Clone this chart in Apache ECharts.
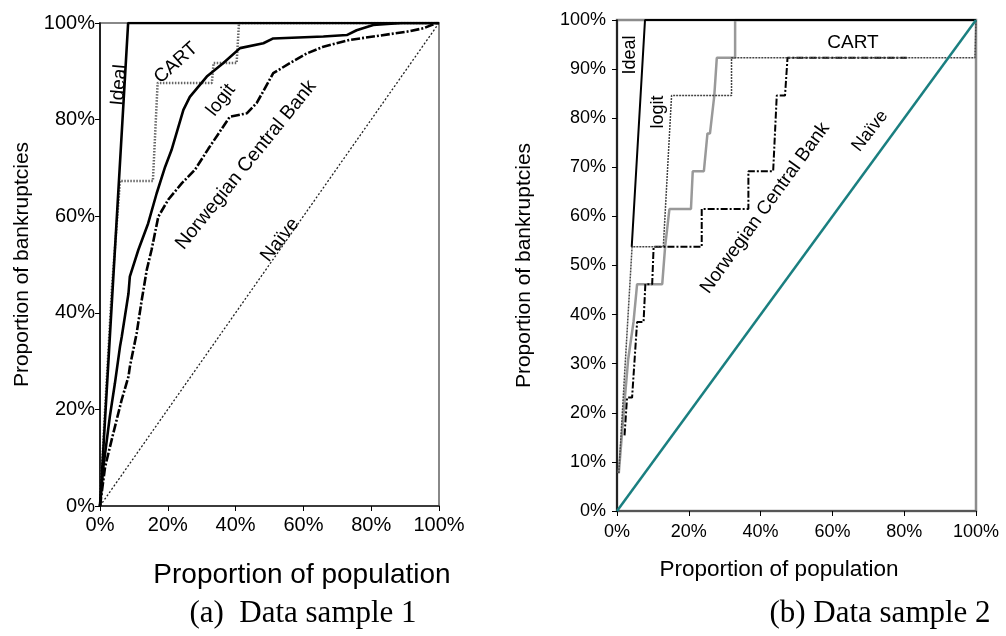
<!DOCTYPE html>
<html>
<head>
<meta charset="utf-8">
<script src="https://cdn.jsdelivr.net/npm/echarts@6/dist/echarts.min.js"></script>
<style>html,body{margin:0;padding:0;background:#fff}#c{width:1006px;height:636px}</style>
</head>
<body>
<div id="c"></div>
<script>
// ---- Panel (a): Data sample 1 ----  [proportion of population %, proportion of bankruptcies %]
const A_ideal = [[0,0],[8.3,100],[100,100]];
const A_cart = [[0,0],[1.5,20],[3.5,45],[5.9,67.3],[15.6,67.3],[17,87.6],[33,87.6],[33.5,91.7],[40.3,91.7],[41,100],[100,100]];
const A_logit = [[0,0],[1,8.1],[2.9,18.5],[4.4,25.4],[5.9,33],[6.4,35],[8.4,44],[8.8,47.5],[11.3,53],[14.2,58.5],[16.7,64.7],[19.2,70.2],[21.1,73.7],[24.6,82],[26.5,84.7],[31.5,88.9],[36.4,91.7],[41.3,94.8],[48.2,95.8],[51.1,96.8],[65.9,97.2],[72.8,97.5],[75.7,98.5],[80.6,99.6],[89,100],[100,100]];
const A_ncb = [[0,0],[1.5,8.1],[3.9,15],[6.4,22],[8.4,26.8],[8.8,28.8],[10.8,35.7],[12.3,42.6],[13.8,48.9],[15.2,53],[17.2,59.9],[20.1,63.4],[24.1,66.8],[28,69.6],[32,74],[38.3,80.6],[43.3,81.3],[46.2,83.4],[51.1,89.6],[56,91.7],[61,93.7],[65.9,95.1],[73.7,96.5],[80.6,97.2],[90.5,98.2],[95.4,98.9],[99.3,100],[100,100]];
const A_naive = [[0,0],[100,100]];

// ---- Panel (b): Data sample 2 ----
const B_ideal = [[4.1,53.8],[7.8,100],[100,100]];
const B_cart = [[0.5,7.7],[4.2,53.8],[12.9,53.8],[15.2,84.6],[31.9,84.6],[31.9,92.3],[99.7,92.3],[100,100]];
const B_logit = [[0.5,7.7],[2.2,23.1],[3.1,30.8],[3.6,30.8],[4.6,38.5],[5.6,46.2],[12.6,46.2],[13.4,53.8],[14.6,61.5],[20.6,61.5],[21.1,69.2],[24.2,69.2],[25.2,76.9],[25.9,76.9],[27.1,84.6],[27.8,92.3],[32.9,92.3],[32.9,100],[100,100]];
const B_ncb = [[2.1,15.4],[2.8,23.1],[4.2,23.1],[5.6,38.5],[7.4,38.5],[7.9,46.2],[9.8,46.2],[10.2,53.8],[23.6,53.8],[23.6,61.5],[36.6,61.5],[36.6,69.2],[43.5,69.2],[44.5,84.6],[46.8,84.6],[47.5,92.3],[80.7,92.3]];
const B_naive = [[0,0],[100,100]];

const xTicksA = 20, yTicksA = 20, xTicksB = 20, yTicksB = 10;
const xNameA = 'Proportion of population', yNameA = 'Proportion of bankruptcies';
const xNameB = 'Proportion of population', yNameB = 'Proportion of bankruptcies';
const captionA = '(a)  Data sample 1', captionB = '(b) Data sample 2';

const SANS = '"Liberation Sans", Arial, sans-serif';
const SERIF = '"Liberation Serif", "Times New Roman", serif';
const chart = echarts.init(document.getElementById('c'), null, {renderer:'canvas'});

function ax(opts){
  return Object.assign({
    type:'value', min:0, max:100,
    splitLine:{show:false},
    axisLine:{show:true, lineStyle:{color:'#000', width:1.5}},
    axisTick:{show:true, inside:false, length:5, lineStyle:{color:'#000', width:1}},
    axisLabel:{formatter:'{value}%', color:'#000', fontFamily:SANS},
    nameLocation:'middle',
    nameTextStyle:{color:'#000', fontFamily:SANS}
  }, opts);
}
function ln(name, data, gi, style, z){
  return {type:'line', name, data, xAxisIndex:gi, yAxisIndex:gi, showSymbol:false, symbol:'none',
    lineStyle:style, z:z||2, silent:true, animation:false};
}
function txt(text, x, y, rotDeg, size, family){
  return {type:'text', x, y, rotation: rotDeg*Math.PI/180, z:100,
    style:{text, fill:'#000', font: size+'px '+(family||SANS), align:'center', verticalAlign:'middle', textAlign:'center', textVerticalAlign:'middle'}};
}

chart.setOption({
  animation:false,
  grid:[
    {left:100, top:23, width:339, height:483, show:true, borderColor:'#888', borderWidth:2, backgroundColor:'transparent'},
    {left:617, top:20, width:359, height:491, show:true, borderColor:'#8c8c8c', borderWidth:2.5, backgroundColor:'transparent'}
  ],
  xAxis:[
    ax({gridIndex:0, interval:xTicksA,
        axisLine:{show:true, lineStyle:{color:'#222', width:1.5}},
        axisLabel:{formatter:'{value}%', color:'#000', fontFamily:SANS, fontSize:20, margin:9}}),
    ax({gridIndex:1, interval:xTicksB,
        axisLine:{show:true, lineStyle:{color:'#444', width:1.5}},
        axisLabel:{formatter:'{value}%', color:'#000', fontFamily:SANS, fontSize:18, margin:12}})
  ],
  yAxis:[
    ax({gridIndex:0, interval:yTicksA, name:yNameA, nameGap:67,
        axisLabel:{formatter:'{value}%', color:'#000', fontFamily:SANS, fontSize:20, margin:5},
        nameTextStyle:{color:'#000', fontFamily:SANS, fontSize:21}}),
    ax({gridIndex:1, interval:yTicksB, name:yNameB, nameGap:82,
        axisLabel:{formatter:'{value}%', color:'#000', fontFamily:SANS, fontSize:18, margin:11},
        nameTextStyle:{color:'#000', fontFamily:SANS, fontSize:21}})
  ],
  series:[
    ln('Naive', A_naive, 0, {color:'#222', width:1.3, type:[2,2]}, 2),
    ln('CART', A_cart, 0, {color:'#666', width:2.5, type:[1.5,1.5]}, 3),
    ln('Norwegian Central Bank', A_ncb, 0, {color:'#000', width:2.6, type:[9,2,2,2]}, 4),
    ln('logit', A_logit, 0, {color:'#000', width:2.6}, 5),
    ln('Ideal', A_ideal, 0, {color:'#000', width:2.6}, 6),

    ln('Ideal', B_ideal, 1, {color:'#000', width:2}, 6),
    ln('logit', B_logit, 1, {color:'#999', width:2.5}, 3),
    ln('Norwegian Central Bank', B_ncb, 1, {color:'#000', width:2, type:[7,2,2,2]}, 4),
    ln('CART', B_cart, 1, {color:'#444', width:1.5, type:[2,1]}, 5),
    ln('Naive', B_naive, 1, {color:'#1a7f80', width:2.5}, 7)
  ],
  graphic:[
    txt('Ideal', 119, 85, 85, 19),
    txt('CART', 176, 63, 42, 19),
    txt('logit', 221, 100, 52, 19),
    txt('Norwegian Central Bank', 246, 165, 51, 19.5),
    txt('Naïve', 280, 240, 52, 19),

    txt('Ideal', 630, 55, 90, 18),
    txt('logit', 658, 112, 90, 18),
    txt('CART', 853, 43, 0, 19),
    txt('Norwegian Central Bank', 765, 208, 54, 19),
    txt('Naïve', 870, 131, 52, 18),

    txt(xNameA, 302, 575, 0, 28),
    txt(xNameB, 779, 570, 0, 22.5),

    txt(captionA, 303, 614, 0, 31, SERIF),
    txt(captionB, 880, 614, 0, 31, SERIF)
  ]
});
</script>
</body>
</html>
